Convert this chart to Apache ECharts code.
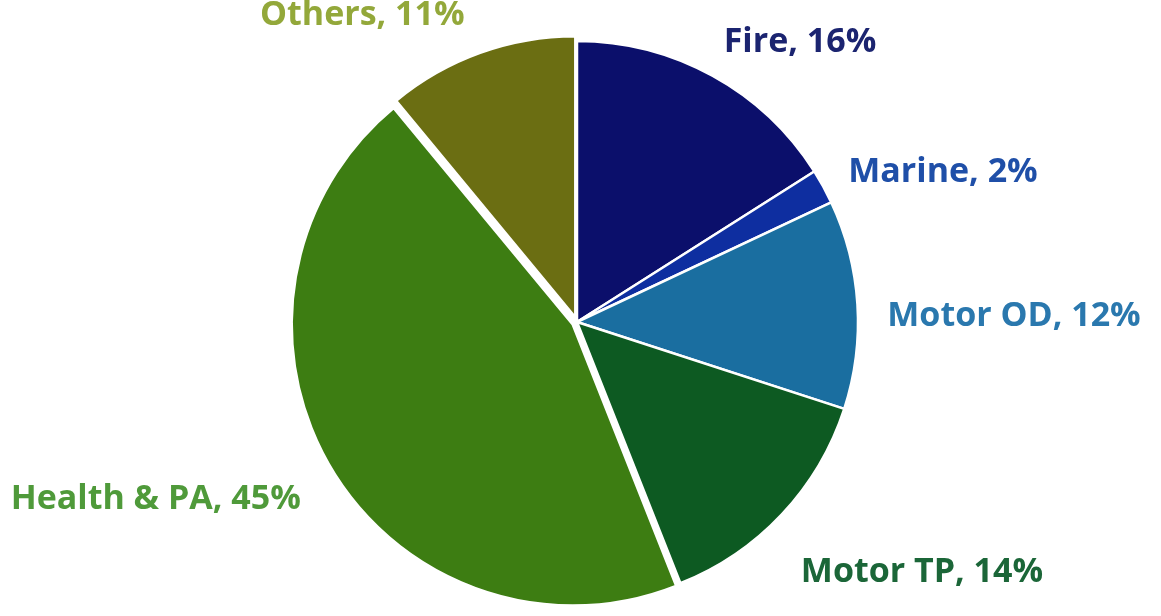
<!DOCTYPE html>
<html>
<head>
<meta charset="utf-8">
<script src="https://cdn.jsdelivr.net/npm/echarts@6/dist/echarts.min.js"></script>
<style>
  html, body { margin: 0; padding: 0; background: #fff; }
  #chart_1 { width: 1161px; height: 616px; }
</style>
</head>
<body>
<div id="chart_1"></div>
<script>
// 数据
var names = ['Fire', 'Marine', 'Motor OD', 'Motor TP', 'Health & PA', 'Others'];
var shares = [16, 2, 12, 14, 45, 11];
var exploded = [false, false, false, false, true, true];

// 颜色
var sliceColors = ['#0b0f6b', '#0e2ea0', '#1a6ea0', '#0d5a22', '#3d7d12', '#6b6e12'];
var labelColors = ['#1b2470', '#1f4fa8', '#2a78ae', '#1b6638', '#4f9a3a', '#93a83a'];
// label centres, picked to sit where the original puts them
var labelPos = [[800, 42], [943, 172], [1014, 316], [922, 572], [160, 497], [364, 20]];

var pieData = [];
for (var i = 0; i < names.length; i++) {
    pieData.push({
        name: names[i],
        value: shares[i],
        selected: exploded[i],
        itemStyle: { color: sliceColors[i] },
        label: { color: labelColors[i] }
    });
}

var option1 = {
    animation: false,
    series: [
        {
            type: 'pie',
            center: [577, 322],
            radius: 281,
            startAngle: 90,
            clockwise: true,
            selectedMode: 'multiple',
            selectedOffset: 5,
            itemStyle: {
                borderColor: '#fff',
                borderWidth: 2.5
            },
            label: {
                show: true,
                position: 'outside',
                overflow: 'none',
                bleedMargin: 0,
                edgeDistance: 0,
                fontFamily: '"Open Sans", "Noto Sans", sans-serif',
                fontWeight: 'bold',
                fontSize: 34,
                formatter: function (p) {
                    return p.name + ', ' + p.value + '%';
                }
            },
            labelLine: { show: false },
            labelLayout: function (params) {
                // shift the label so its box centre lands on labelPos
                var p = labelPos[params.dataIndex];
                var r = params.labelRect;
                return {
                    dx: p[0] - (r.x + r.width / 2),
                    dy: p[1] - (r.y + r.height / 2)
                };
            },
            emphasis: { disabled: true },
            data: pieData
        }
    ]
};
var myChart1 = echarts.init(document.getElementById('chart_1'));
myChart1.setOption(option1);
</script>
</body>
</html>
